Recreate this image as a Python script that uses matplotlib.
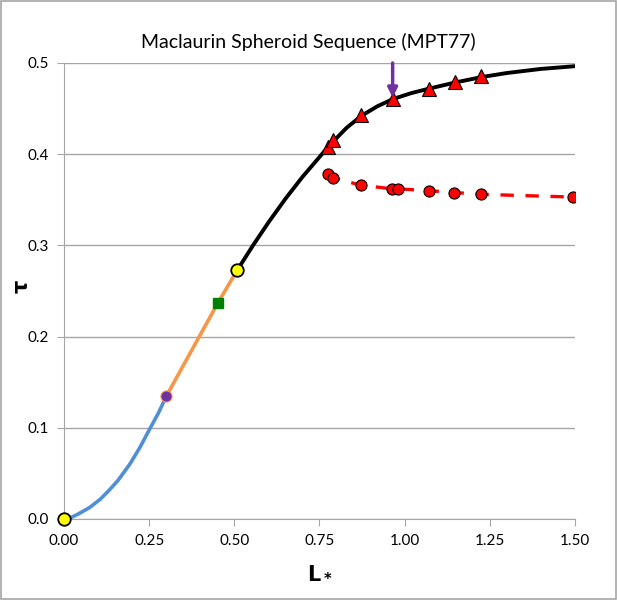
import matplotlib
matplotlib.use("Agg")
import matplotlib.pyplot as plt
from matplotlib.patches import Rectangle

plt.rcParams['font.family'] = ['Lato', 'DejaVu Sans']

# curve segments (L*, tau)
blue_L = [0.0, 0.02, 0.042, 0.075, 0.106, 0.13, 0.159, 0.194, 0.223, 0.25, 0.277, 0.301]
blue_t = [0.0, 0.0015, 0.0055, 0.0125, 0.0215, 0.0305, 0.0425, 0.0605, 0.0785, 0.0975, 0.116, 0.135]

orange_L = [0.301, 0.452, 0.509]
orange_t = [0.135, 0.237, 0.273]

black_L = [0.509, 0.555, 0.600, 0.650, 0.700, 0.755, 0.775, 0.792, 0.830, 0.873,
           0.920, 0.966, 1.020, 1.073, 1.147, 1.225, 1.300, 1.400, 1.500]
black_t = [0.273, 0.300, 0.325, 0.351, 0.375, 0.399, 0.4075, 0.4145, 0.429, 0.442,
           0.4525, 0.4605, 0.467, 0.472, 0.4785, 0.4845, 0.489, 0.4935, 0.4965]

# triangles on sequence
tri_L = [0.775, 0.791, 0.872, 0.965, 1.072, 1.147, 1.224]
tri_t = [0.408, 0.416, 0.443, 0.461, 0.472, 0.479, 0.486]

# red circles, dashed
circ_L = [0.775, 0.791, 0.872, 0.964, 0.982, 1.071, 1.146, 1.224, 1.496]
circ_t = [0.378, 0.374, 0.366, 0.362, 0.362, 0.360, 0.358, 0.356, 0.353]

yellow_L = [0.0, 0.509]
yellow_t = [0.0, 0.273]
purple_pt = (0.301, 0.135)
green_pt = (0.452, 0.237)
arrow_L = 0.965
arrow_top = 0.5
arrow_tip = 0.462

xticks = [0.0, 0.25, 0.5, 0.75, 1.0, 1.25, 1.5]
yticks = [0.0, 0.1, 0.2, 0.3, 0.4, 0.5]

fig = plt.figure(figsize=(6.17, 6.0), dpi=100)
fig.patches.append(Rectangle((0.002, 0.002), 0.996, 0.996, transform=fig.transFigure,
                             fill=False, edgecolor='#a6a6a6', linewidth=1.2))
ax = fig.add_axes([0.1037, 0.135, 0.828, 0.76])

for y in yticks:
    ax.axhline(y, color='#a6a6a6', linewidth=1.0, zorder=1)

ax.plot(blue_L, blue_t, color='#4f8fd6', linewidth=2.6, zorder=3, solid_capstyle='butt')
ax.plot(orange_L, orange_t, color='#f79646', linewidth=2.6, zorder=3, solid_capstyle='butt')
ax.plot(black_L, black_t, color='black', linewidth=2.8, zorder=3)

ax.plot(circ_L, circ_t, color='#ff0000', linewidth=2.4, dashes=(4, 3.5), zorder=4)
ax.plot(circ_L, circ_t, linestyle='none', marker='o', markersize=8,
        markerfacecolor='#ff0000', markeredgecolor='black', markeredgewidth=0.8, zorder=5)
ax.plot(tri_L, tri_t, linestyle='none', marker='^', markersize=9.5,
        markerfacecolor='#ff0000', markeredgecolor='black', markeredgewidth=0.8, zorder=5)

ax.annotate('', xy=(arrow_L, arrow_tip), xytext=(arrow_L, arrow_top),
            arrowprops=dict(arrowstyle='-|>', color='#7030a0', lw=2.5,
                            mutation_scale=14, shrinkA=0, shrinkB=0), zorder=6)

ax.plot(yellow_L, yellow_t, linestyle='none', marker='o', markersize=9,
        markerfacecolor='#ffff00', markeredgecolor='black', markeredgewidth=1.3,
        zorder=7, clip_on=False)
ax.plot([purple_pt[0]], [purple_pt[1]], linestyle='none', marker='o', markersize=8,
        markerfacecolor='#7030a0', markeredgecolor='#f79646', markeredgewidth=0.8, zorder=7)
ax.plot([green_pt[0]], [green_pt[1]], linestyle='none', marker='s', markersize=6.5,
        markerfacecolor='#008000', markeredgecolor='#008000', zorder=7)

ax.set_xlim(0, 1.5)
ax.set_ylim(0, 0.5)
ax.set_xticks(xticks)
ax.set_xticklabels(['%.2f' % v for v in xticks])
ax.set_yticks(yticks)
ax.set_yticklabels(['%.1f' % v for v in yticks])
ax.tick_params(axis='both', labelsize=11, colors='black', length=5,
               color='#a6a6a6', pad=6, direction='out')
for s in ['top', 'right']:
    ax.spines[s].set_visible(False)
ax.spines['left'].set_color('#a6a6a6')
ax.spines['bottom'].set_color('#a6a6a6')

ax.set_xlabel(r'$\mathbf{L_*}$', fontsize=15, labelpad=10)
ax.set_ylabel(r'$\mathbf{\tau}$', fontsize=15)
ax.yaxis.set_label_coords(-0.062, 0.51)
fig.suptitle('Maclaurin Spheroid Sequence (MPT77)', fontsize=14, y=0.945)

fig.savefig('out.png', dpi=100)
